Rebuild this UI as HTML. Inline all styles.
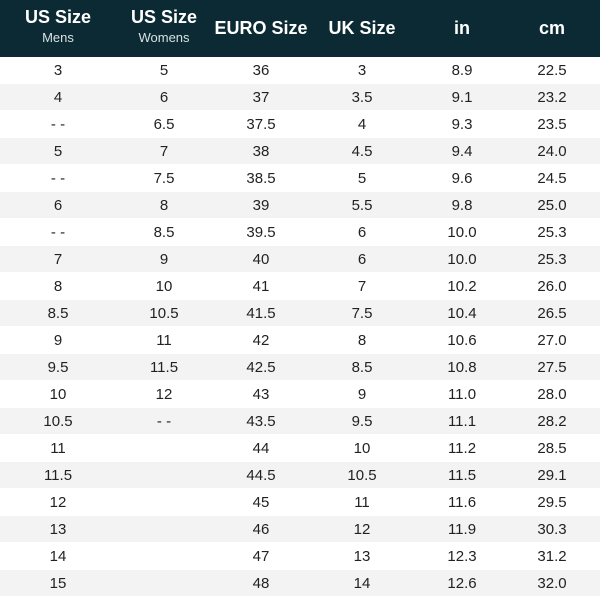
<!DOCTYPE html>
<html><head><style>
body{margin:0;width:600px;height:600px;background:#fff;font-family:"Liberation Sans",sans-serif;overflow:hidden;position:relative}
.hd{position:absolute;left:0;top:0;width:600px;height:57px;background:#0b2a33}
.h{position:absolute;color:#fff;text-align:center;width:120px;margin-left:-60px;font-weight:bold;font-size:18px}
.s{font-weight:normal;font-size:13px;color:#d8e0e2;display:block;margin-top:2px}
.r{position:absolute;left:0;width:600px;height:26px;border-bottom:1px solid #fff}
.r.g{background:#f3f3f3}
.c{position:absolute;top:5px;width:100px;margin-left:-50px;text-align:center;font-size:15px;color:#222}
</style></head><body>
<div class="hd"></div>
<div class="h" style="left:58px;top:7px">US Size<span class="s">Mens</span></div>
<div class="h" style="left:164px;top:7px">US Size<span class="s">Womens</span></div>
<div class="h" style="left:261px;top:18px">EURO Size</div>
<div class="h" style="left:362px;top:18px">UK Size</div>
<div class="h" style="left:462px;top:18px">in</div>
<div class="h" style="left:552px;top:18px">cm</div>
<div id="t"></div>
<script>
var d=[["3","5","36","3","8.9","22.5"],["4","6","37","3.5","9.1","23.2"],["- -","6.5","37.5","4","9.3","23.5"],["5","7","38","4.5","9.4","24.0"],["- -","7.5","38.5","5","9.6","24.5"],["6","8","39","5.5","9.8","25.0"],["- -","8.5","39.5","6","10.0","25.3"],["7","9","40","6","10.0","25.3"],["8","10","41","7","10.2","26.0"],["8.5","10.5","41.5","7.5","10.4","26.5"],["9","11","42","8","10.6","27.0"],["9.5","11.5","42.5","8.5","10.8","27.5"],["10","12","43","9","11.0","28.0"],["10.5","- -","43.5","9.5","11.1","28.2"],["11","","44","10","11.2","28.5"],["11.5","","44.5","10.5","11.5","29.1"],["12","","45","11","11.6","29.5"],["13","","46","12","11.9","30.3"],["14","","47","13","12.3","31.2"],["15","","48","14","12.6","32.0"]];
var x=[58,164,261,362,462,552],h="";
d.forEach(function(r,i){h+='<div class="r'+(i%2?' g':'')+'" style="top:'+(57+i*27)+'px">';r.forEach(function(v,j){h+='<div class="c" style="left:'+x[j]+'px">'+v+'</div>'});h+='</div>'});
document.getElementById('t').innerHTML=h;
</script>
</body></html>
